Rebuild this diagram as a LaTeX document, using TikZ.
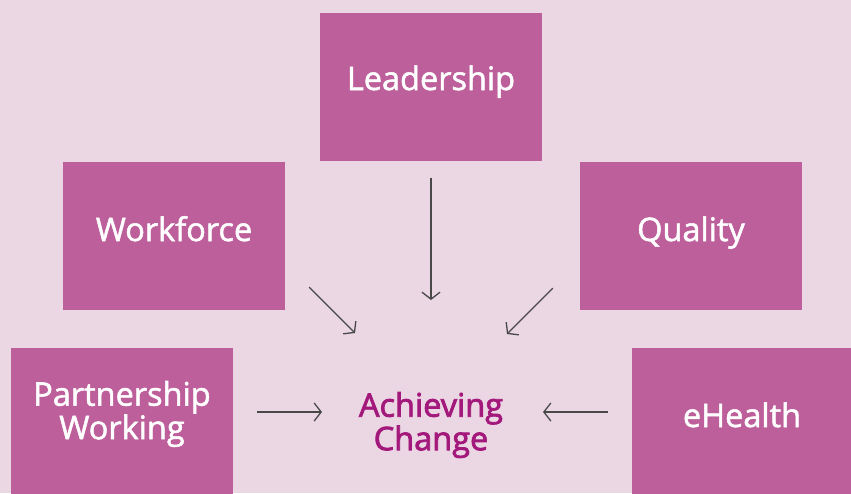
\documentclass[tikz,border=0pt]{standalone}
\usepackage{fontspec}
\setmainfont{Open Sans}[FakeBold=1.6]
\newfontfamily\goalfont{Open Sans}[FakeBold=2.4]
\usetikzlibrary{calc,arrows.meta}

\definecolor{bgpink}{HTML}{EBD6E4}
\definecolor{boxpink}{HTML}{BD5F9B}
\definecolor{goalpink}{HTML}{A3197B}
\definecolor{arrowgrey}{HTML}{484848}

\tikzset{
  box/.style={fill=boxpink, minimum width=222pt, minimum height=148pt, inner sep=0pt},
  boxtext/.style={text=white, font=\fontsize{32.5}{31}\selectfont, inner sep=0pt},
  arr/.style={draw=arrowgrey, line width=1.3pt, -{Straight Barb[length=7pt,width=18pt,line width=1.3pt]}},
}

\begin{document}
\begin{tikzpicture}[x=1pt, y=-1pt]
  \fill[bgpink] (0,0) rectangle (851,493);
  \useasboundingbox (0,0) rectangle (851,493);

  \node (lead) [box] at (431,86.5) {};
  \node (work) [box] at (174,236) {};
  \node (qual) [box] at (691,236) {};
  \node (part) [box] at (122,422) {};
  \node (ehealth) [box] at (743,422) {};

  \node (lead-t) [boxtext, anchor=base] at (431,90) {Leadership};
  \node (work-t) [boxtext, anchor=base] at (174,241) {Workforce};
  \node (qual-t) [boxtext, anchor=base] at (691,241) {Quality};
  \node (ehealth-t) [boxtext, anchor=base] at (742,427) {eHealth};
  \node (part-t) [boxtext, align=center] at (122,414) {Partnership\\Working};
  \node (goal) [boxtext, text=goalpink, font=\goalfont\fontsize{32.5}{31}\selectfont, align=center] at (431,425) {Achieving\\Change};

  % arrow ends
  \coordinate (lead-a) at ($(lead.south)+(0,17)$);
  \coordinate (lead-b) at ($(goal)+(0,-125)$);
  \coordinate (work-a) at ($(work.south east)+(24,-23)$);
  \coordinate (work-b) at ($(goal)+(-76,-92)$);
  \coordinate (qual-a) at ($(qual.south west)+(-27,-22)$);
  \coordinate (qual-b) at ($(goal)+(76,-91)$);
  \coordinate (part-a) at ($(part.east)+(24,-10)$);
  \coordinate (part-b) at ($(goal)+(-109,-13)$);
  \coordinate (ehealth-a) at ($(ehealth.west)+(-24,-10)$);
  \coordinate (ehealth-b) at ($(goal)+(112,-13)$);

  \draw[arr] (lead-a) -- (lead-b);
  \draw[arr] (work-a) -- (work-b);
  \draw[arr] (qual-a) -- (qual-b);
  \draw[arr] (part-a) -- (part-b);
  \draw[arr] (ehealth-a) -- (ehealth-b);
\end{tikzpicture}
\end{document}
